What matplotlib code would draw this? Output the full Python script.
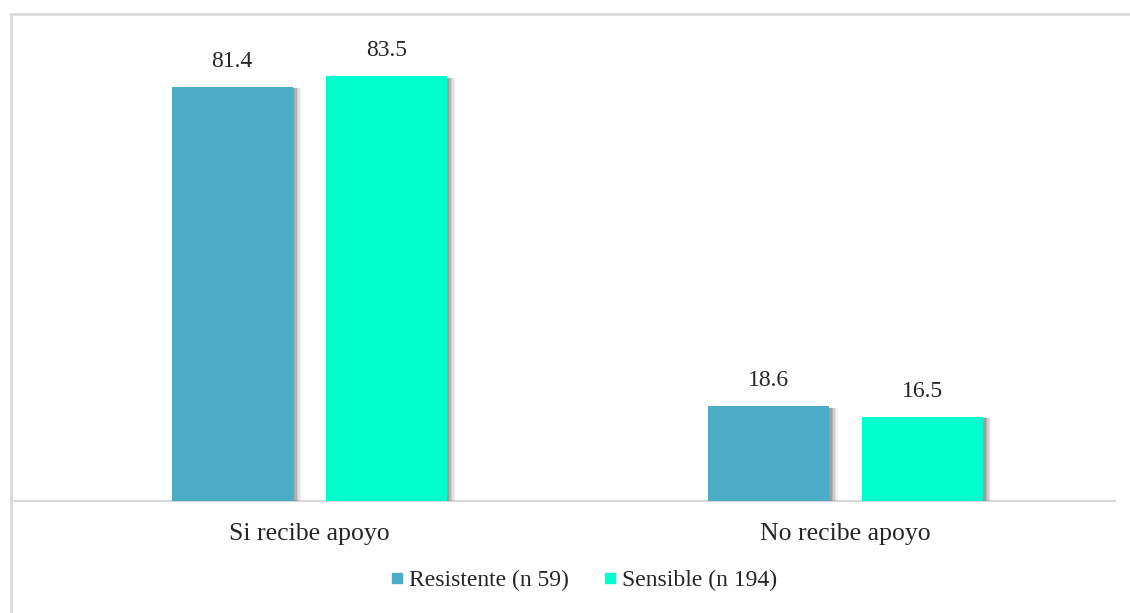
import matplotlib.pyplot as plt
import matplotlib.patheffects as pe
import numpy as np
from matplotlib.lines import Line2D

categories = ["Si recibe apoyo", "No recibe apoyo"]
series_names = ["Resistente (n 59)", "Sensible (n 194)"]
resistente = [81.4, 18.6]
sensible = [83.5, 16.5]
colors = ["#4bacc6", "#00ffcc"]

plt.rcParams["font.family"] = ["Liberation Serif", "DejaVu Serif"]

fig = plt.figure(figsize=(11.30, 6.13), dpi=100)
ax = fig.add_axes([12 / 1130, 1 - 501 / 613, 1103 / 1130, 471 / 613])

x = np.arange(len(categories))
width = 0.2255
gap = 0.0615
offsets = [-(width + gap) / 2, (width + gap) / 2]

# soft drop shadow on the right side of each bar
shadow = [pe.SimplePatchShadow(offset=(d, -1), shadow_rgbFace="#6f6f6f", alpha=a)
          for d, a in [(6, 0.08), (5, 0.12), (4, 0.18), (3, 0.25), (2, 0.32)]]
shadow.append(pe.Normal())

for vals, off, col, name in zip([resistente, sensible], offsets, colors, series_names):
    bars = ax.bar(x + off, vals, width, color=col, label=name, zorder=3)
    for b in bars:
        b.set_path_effects(shadow)
    for b, v in zip(bars, vals):
        ax.text(b.get_x() + b.get_width() / 2, v + 3.0, f"{v:.1f}",
                ha="center", va="bottom", fontsize=17, color="#262626")

ax.set_xlim(-0.554, 1.502)
ax.set_ylim(0, 92.6)
ax.set_yticks([])
ax.set_xticks(x)
ax.set_xticklabels(categories, fontsize=18.5, color="#262626")
ax.tick_params(axis="x", length=0, pad=16)
for s in ["top", "right", "left"]:
    ax.spines[s].set_visible(False)
ax.spines["bottom"].set_color("#d9d9d9")
ax.spines["bottom"].set_linewidth(1.5)

handles = [Line2D([], [], marker="s", linestyle="none", markersize=7.5, color=c) for c in colors]
ax.legend(handles, series_names, loc="center", bbox_to_anchor=(584 / 1130, (613 - 580) / 613),
          bbox_transform=fig.transFigure, ncol=2, frameon=False, fontsize=17,
          handlelength=0.5, handletextpad=0.25, columnspacing=1.5, labelcolor="#262626")

# light frame around the chart area (left and top edges)
fig.add_artist(Line2D([11 / 1130, 11 / 1130], [0, 1 - 14 / 613], transform=fig.transFigure,
                      color="#d9d9d9", linewidth=2))
fig.add_artist(Line2D([11 / 1130, 1], [1 - 14 / 613, 1 - 14 / 613], transform=fig.transFigure,
                      color="#d9d9d9", linewidth=2))

fig.savefig("out.png", dpi=100)
